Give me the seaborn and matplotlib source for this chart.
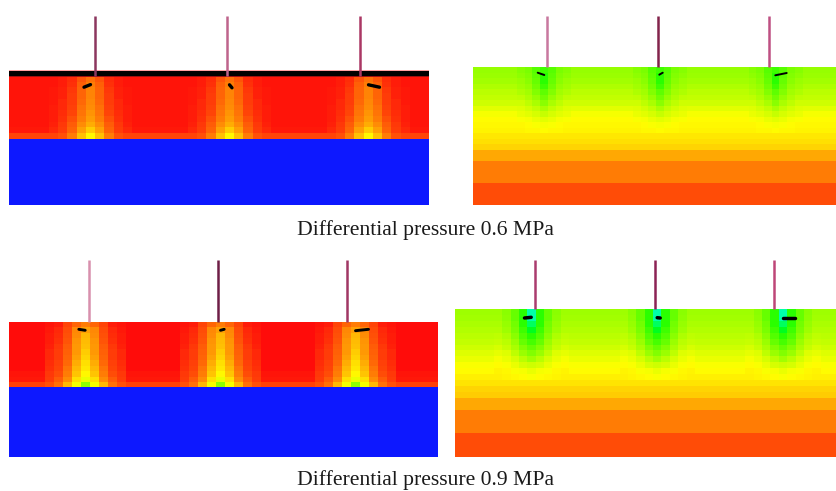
import numpy as np
import matplotlib
matplotlib.use("Agg")
import matplotlib.pyplot as plt
from matplotlib.colors import LinearSegmentedColormap
import seaborn as sns

W, H = 837, 491

# ---- values (position on the rainbow scale, 0 = blue, 1 = red) ----
captions = ["Differential pressure 0.6 MPa", "Differential pressure 0.9 MPa"]
plume_cols = [9, 24, 39]

a_rows = [.98, .98, .98, .98, .98, .98, .98, .98, .98, .975, .93]
a_plume = [
    [.89, .875, .87, .87, .865, .86, .855, .845, .83, .80, .755],
    [.915, .905, .90, .90, .895, .89, .885, .875, .86, .84, .81],
    [.955, .95, .945, .94, .94, .935, .93, .92, .91, .90, .875],
    [.97, .97, .965, .965, .96, .96, .955, .95, .945, .94, .92],
    [.98, .98, .975, .975, .975, .97, .97, .97, .965, .96, .93],
]

b_rows = [.645, .65, .66, .67, .68, .69, .70, .72, .74, .75, .755, .76, .77, .78,
          .79, .835, .835, .875, .875, .875, .875, .925, .925, .925, .925]
b_plume = [
    [.56, .54, .54, .56, .59, .61, .635, .665, .695, .72, .74, .75],
    [.585, .59, .60, .61, .625, .645, .665, .69, .71, .73, .745, .755],
    [.62, .625, .635, .645, .66, .67, .685, .705, .72, .74, .75, .755],
    [.63, .64, .65, .66, .67, .685, .70, .715, .73, .745, .755, .76],
]

c_rows = [.985, .985, .985, .985, .985, .985, .985, .985, .985, .98, .975, .935]
c_plume = [
    [.875, .84, .82, .815, .81, .80, .79, .78, .77, .755, .73, .64],
    [.90, .865, .86, .855, .85, .85, .84, .83, .82, .805, .78, .74],
    [.93, .925, .92, .915, .91, .905, .90, .895, .885, .875, .86, .82],
    [.97, .96, .955, .95, .945, .94, .94, .935, .93, .925, .91, .89],
    [.98, .975, .97, .97, .965, .96, .96, .955, .95, .945, .94, .92],
]

d_rows = [.655, .66, .665, .675, .68, .69, .70, .715, .73, .745, .75, .765, .775, .79,
          .80, .835, .835, .875, .875, .875, .875, .925, .925, .925, .925]
d_plume = [
    [.335, .335, .41, .47, .54, .57, .60, .625, .66, .70, .73, .745],
    [.54, .54, .54, .56, .58, .60, .625, .65, .68, .71, .74, .75],
    [.60, .60, .61, .62, .635, .65, .665, .685, .71, .73, .745, .755],
    [.635, .64, .645, .655, .67, .68, .695, .715, .73, .745, .755, .76],
    [.655, .66, .665, .675, .685, .695, .71, .725, .74, .75, .76, .765],
]

wells_a = [95, 227.5, 360]
wells_b = [547.3, 658, 768.7]
wells_c = [89.3, 218, 346.7]
wells_d = [535.3, 655, 774]

fractures_a = [[(84, 87.2), (90.5, 84.6)], [(229.5, 84.8), (232, 87.8)], [(368.5, 84.8), (379.5, 87.2)]]
fractures_b = [[(537.7, 72.7), (544.3, 75)], [(659.3, 74.7), (662.7, 72.7)], [(775.3, 75.3), (786.7, 73)]]
fractures_c = [[(78.8, 329.3), (85.2, 330.3)], [(220.5, 330.3), (224.2, 329.3)], [(355.5, 330.7), (368.5, 329.3)]]
fractures_d = [[(524.5, 318), (531.2, 317.3)], [(657.2, 317.7), (660.2, 318)], [(783.2, 317.7), (795.5, 317.7)]]

# ---- styling ----
cmap = LinearSegmentedColormap.from_list("rainbow_cfd", [
    (0.00, (13/255, 24/255, 1.0)),
    (0.25, (0.0, 1.0, 1.0)),
    (0.50, (0.0, 1.0, 0.0)),
    (0.75, (1.0, 1.0, 0.0)),
    (1.00, (1.0, 0.0, 0.04)),
])
well_colors_a = ["#8c375f", "#be648c", "#aa3764"]
well_colors_b = ["#c8789f", "#82234b", "#be5082"]
well_colors_c = ["#d890ad", "#6e1e46", "#a03764"]
well_colors_d = ["#aa3c6e", "#8c2355", "#be4678"]


def build_grid(rows, plume, ncols, blue_rows=0):
    grid = np.tile(np.array(rows, dtype=float)[:, None], (1, ncols))
    plume = np.array(plume)
    for c in plume_cols:
        for off in range(plume.shape[0] - 1, -1, -1):
            for col in (c - off, c + off):
                grid[:plume.shape[1], col] = plume[off]
    if blue_rows:
        grid = np.vstack([grid, np.zeros((blue_rows, ncols))])
    return grid


def panel(grid, x0, x1, y0, y1, xlim, ylim):
    ax = fig.add_axes([x0 / W, 1 - y1 / H, (x1 - x0) / W, (y1 - y0) / H])
    sns.heatmap(grid, ax=ax, cmap=cmap, vmin=0, vmax=1, cbar=False,
                xticklabels=False, yticklabels=False, linewidths=0)
    ax.set_xlim(*xlim)
    ax.set_ylim(*ylim)
    for s in ax.spines.values():
        s.set_visible(False)
    return ax


sns.set_theme(style="white")
fig = plt.figure(figsize=(W / 100, H / 100), dpi=100, facecolor="white")

panel(build_grid(a_rows, a_plume, 47, 12), 9, 429, 76, 205, (.676, 46.08), (22.63, 0))
panel(build_grid(b_rows, b_plume, 48), 473, 837, 67, 205, (.3, 47.45), (25, 0))
panel(build_grid(c_rows, c_plume, 49, 13), 9, 438, 322, 457, (1, 48.67), (24.77, 0))
panel(build_grid(d_rows, d_plume, 46), 455, 837, 309, 457, (.37, 45.95), (25, 0))

over = fig.add_axes([0, 0, 1, 1], zorder=5)
over.set_xlim(0, W)
over.set_ylim(H, 0)
over.axis("off")
over.patch.set_alpha(0)

# black band over the first panel
over.fill_between([9, 429], 70.5, 76, color="black", lw=0, zorder=1)
over.fill_between([9, 429], 69.8, 70.6, color="#ffa0a0", lw=0, zorder=1)
over.fill_between([9, 429], 75.6, 76.6, color="#a01010", lw=0, zorder=1)


def wells(xs, colors, y0, y1):
    for x, c in zip(xs, colors):
        over.plot([x, x], [y0, y1], color=c, lw=1.8, solid_capstyle="butt", zorder=2)


wells(wells_a, well_colors_a, 16, 76)
wells(wells_b, well_colors_b, 16, 67)
wells(wells_c, well_colors_c, 260, 322)
wells(wells_d, well_colors_d, 260, 309)

for segs, lw in ((fractures_a, 2.4), (fractures_b, 1.4), (fractures_c, 2.1), (fractures_d, 2.5)):
    for (xa, ya), (xb, yb) in segs:
        over.plot([xa, xb], [ya, yb], color="black", lw=lw, solid_capstyle="round", zorder=3)

for cap, y in zip(captions, [230.3, 480.3]):
    over.text(425.5, y, cap, ha="center", va="center", family="Liberation Serif",
              fontsize=15.6, color="#1a1a1a")

fig.savefig("out.png", dpi=100, facecolor="white")
